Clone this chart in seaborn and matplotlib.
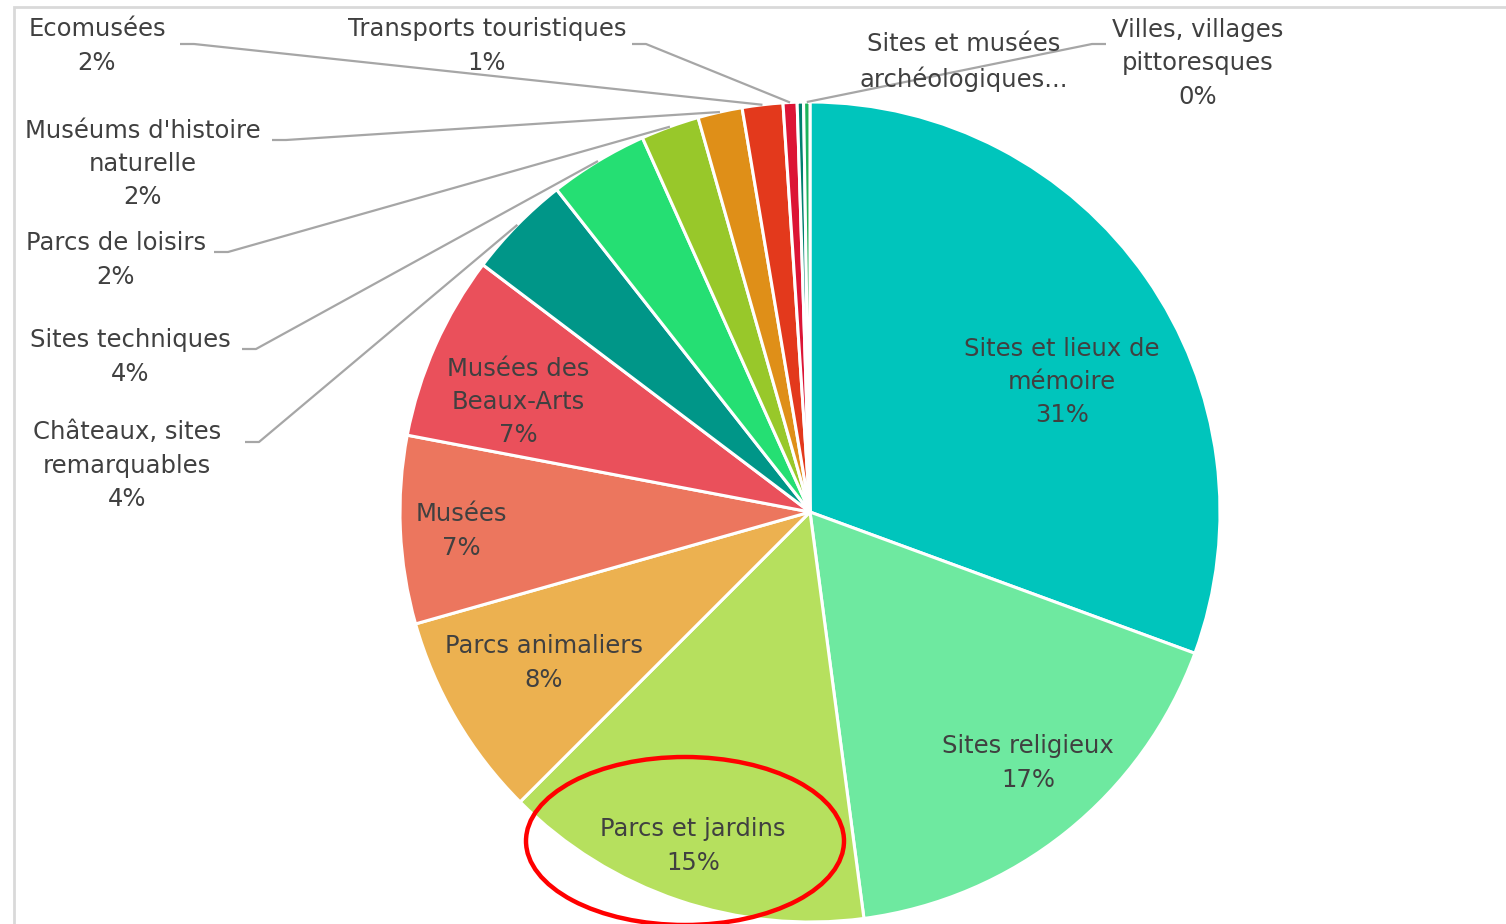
import matplotlib
matplotlib.use("Agg")
import matplotlib.pyplot as plt
import numpy as np
import seaborn as sns
from matplotlib.patches import Ellipse, Rectangle

sns.set_theme(style="white")
plt.rcParams["font.family"] = ["DejaVu Sans"]

# data, clockwise from 12 o'clock
categories = [
    "Sites et lieux de mémoire", "Sites religieux", "Parcs et jardins",
    "Parcs animaliers", "Musées", "Musées des Beaux-Arts",
    "Châteaux, sites remarquables", "Sites techniques", "Parcs de loisirs",
    "Muséums d'histoire naturelle", "Ecomusées", "Transports touristiques",
    "Sites et musées archéologiques", "Villes, villages pittoresques",
]
shares = [30.6, 17.3, 14.6, 8.1, 7.4, 7.3, 4.1, 3.9, 2.3, 1.75, 1.6, 0.55, 0.25, 0.25]
pct_labels = ["31%", "17%", "15%", "8%", "7%", "7%", "4%", "4%", "2%", "2%",
              "2%", "1%", "", "0%"]
colors = ["#00C5BC", "#6EE9A0", "#B6E05E", "#ECB150", "#EC765E", "#EA505B",
          "#009688", "#25DF73", "#98C82A", "#DF8F18", "#E3391C", "#DC1535",
          "#00806E", "#1DB35A"]

# label text as shown in the chart (line breaks as in the original)
label_text = [
    "Sites et lieux de\nmémoire", "Sites religieux", "Parcs et jardins",
    "Parcs animaliers", "Musées", "Musées des\nBeaux-Arts",
    "Châteaux, sites\nremarquables", "Sites techniques", "Parcs de loisirs",
    "Muséums d'histoire\nnaturelle", "Ecomusées", "Transports touristiques",
    "Sites et musées\narchéologiques...", "Villes, villages\npittoresques",
]

W, H = 1506, 924
CX, CY, R = 810, 512, 410

# label centres in image pixels (layout), leader start point or None
label_pos = [
    (1062, 382, None), (1028, 763, None), (693, 846, None), (544, 663, None),
    (461, 531, None), (518, 402, None),
    (127, 466, (245, 442)), (130, 357, (242, 349)), (116, 260, (214, 252)),
    (143, 164, (272, 140)), (97, 46, (180, 44)), (487, 46, (632, 44)),
    (964, 62, None), (1198, 63, (1106, 44)),
]

fig = plt.figure(figsize=(W / 100, H / 100), dpi=100)
ax = fig.add_axes([0, 0, 1, 1])

wedges, _ = ax.pie(
    shares, colors=colors, startangle=90, counterclock=False,
    center=(CX, H - CY), radius=R, frame=True,
    wedgeprops=dict(edgecolor="white", linewidth=2.2),
)
ax.set_xlim(0, W)
ax.set_ylim(0, H)
ax.set_aspect("equal")
ax.axis("off")

txt_color = "#404040"
for i, w in enumerate(wedges):
    x, y, start = label_pos[i]
    text = label_text[i] + ("\n" + pct_labels[i] if pct_labels[i] else "")
    ax.text(x, H - y, text, ha="center", va="center", fontsize=17.5,
            color=txt_color, linespacing=1.5)
    if start is not None:
        mid = np.deg2rad((w.theta1 + w.theta2) / 2)
        ex = CX + R * np.cos(mid)
        ey = (H - CY) + R * np.sin(mid)
        sx, sy = start[0], H - start[1]
        hx = sx + 14 if sx < CX else sx - 14
        ax.plot([sx, hx, ex], [sy, sy, ey], color="#A6A6A6", lw=1.6,
                solid_capstyle="butt")

# chart area frame
ax.add_patch(Rectangle((14, -20), W + 40, H - 7 + 20, fill=False,
                       edgecolor="#D9D9D9", lw=2, clip_on=False))

# highlight ellipse
ax.add_patch(Ellipse((685, H - 841), 318, 168, fill=False,
                     edgecolor="#FF0000", lw=3.2))

fig.savefig("out.png", dpi=100)
